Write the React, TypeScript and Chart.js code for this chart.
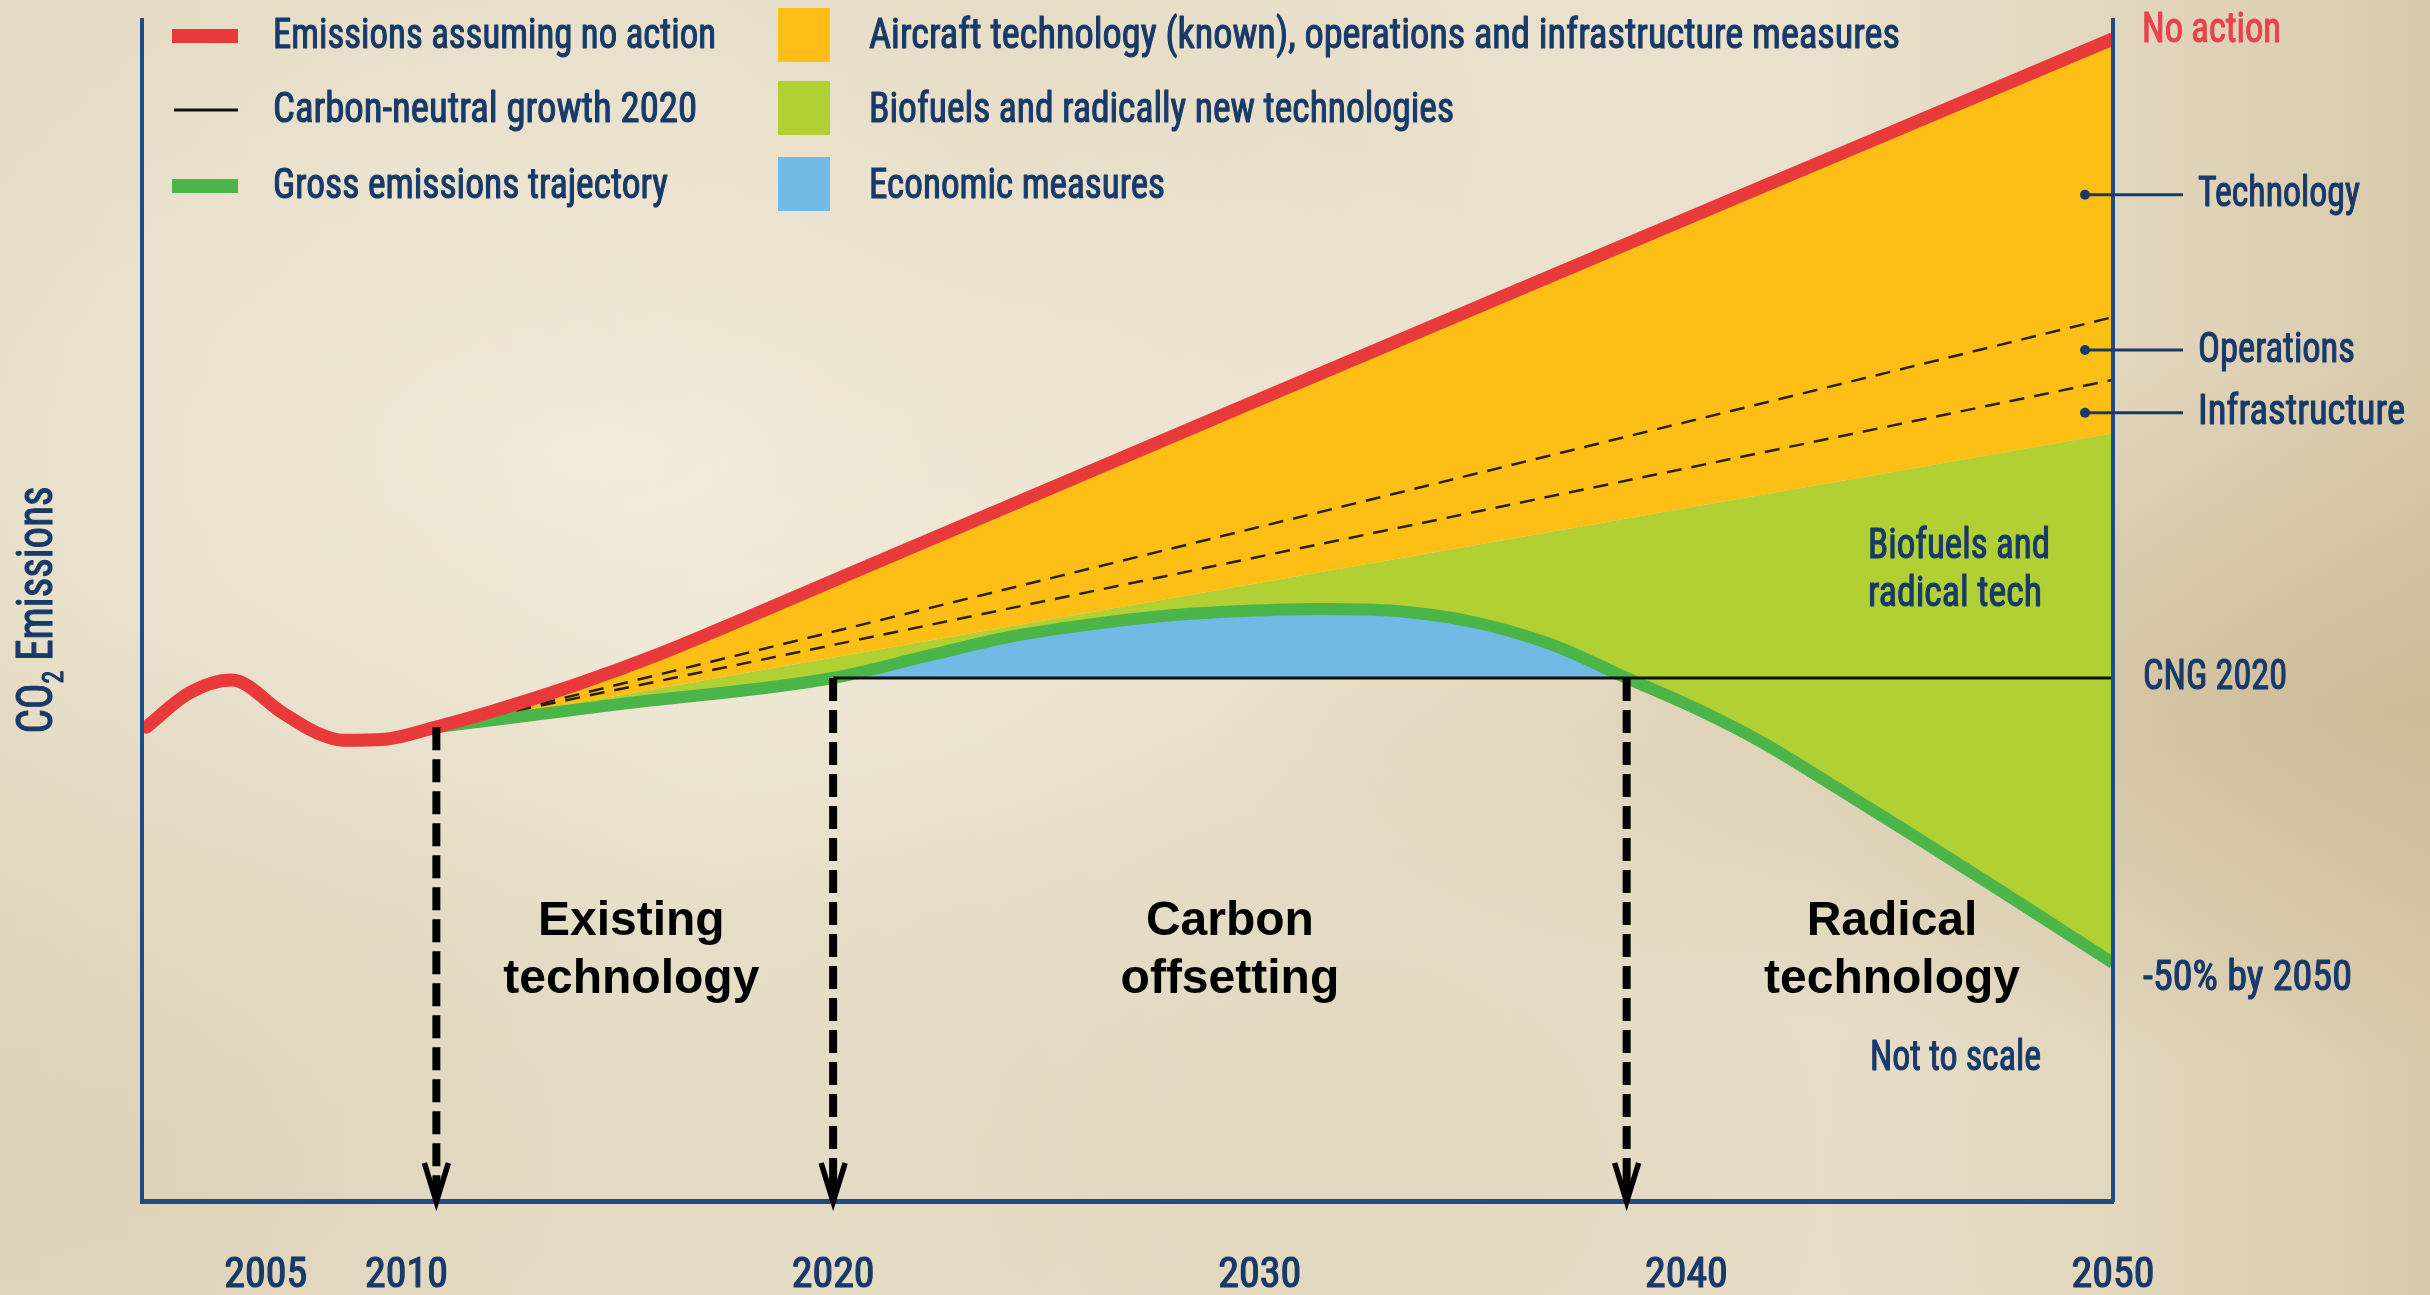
import React, { useEffect, useRef } from 'react';
import { Chart, registerables } from 'chart.js';

Chart.register(...registerables);

// ---------- DATA (emission index, carbon-neutral-growth level = 100; chart "not to scale") ----------
const historyYears = [2003.9, 2004.9, 2005.9, 2007.1, 2007.9, 2008.5, 2009.5, 2010.7];
const historyEmissions = [90.6, 97.1, 99.6, 93.3, 89.5, 88.1, 88.3, 90.6];

const noActionYears = [2010.7, 2012, 2014, 2016, 2018, 2020, 2030, 2040, 2050];
const noActionEmissions = [90.6, 93.6, 98.8, 104.8, 111.6, 118.6, 153.3, 187.8, 222.2];

const knownTechYears = [2010.7, 2015, 2020, 2030, 2040, 2050];
const knownTechEmissions = [90.6, 96.7, 103.9, 118.2, 132.5, 146.8];

const grossYears = [2010.7, 2015, 2020, 2022.3, 2024.1, 2025.9, 2027.8, 2029.6, 2031.4, 2033.2, 2035, 2036.8, 2038.6, 2040.34, 2041.75, 2043.27, 2045.26, 2047.37, 2050];
const grossEmissions = [90.6, 95.0, 100, 104.4, 107.8, 110.1, 111.9, 112.8, 113.2, 112.8, 110.7, 106.5, 100, 93.7, 87.8, 80.3, 70.2, 59.3, 45.5];

const operationsYears = [2012, 2050];
const operationsEmissions = [92.8, 169.0];
const infrastructureYears = [2012, 2050];
const infrastructureEmissions = [92.8, 157.0];

const cngYears = [2020, 2050];
const cngEmissions = [100, 100];

const xTickPositions = [2006.7, 2010, 2020, 2030, 2040, 2050];
const xTickLabels = ['2005', '2010', '2020', '2030', '2040', '2050'];

const phaseYears = [2010.7, 2020, 2038.6];
const phaseStartEmissions = [90.6, 100, 100];
const phaseLabelYears = [2015.27, 2029.3, 2044.82];
const phaseLabels = [['Existing', 'technology'], ['Carbon', 'offsetting'], ['Radical', 'technology']];

const measureLabels = ['Technology', 'Operations', 'Infrastructure'];
const measureLabelValues = [192.4, 162.7, 150.7];

// ---------- STYLE ----------
const RED = '#e8393b';
const ORANGE = '#fdbf16';
const LIGHT = '#b0d033';
const GREEN = '#4bb549';
const BLUE = '#72bae6';
const NAVY = '#183a69';
const AXIS = '#1e4d86';
const DASH = '#2b2010';
const NARROW = "'Liberation Sans Narrow', 'Roboto Condensed', 'DejaVu Sans Condensed', 'Arial Narrow', sans-serif";
const BOLD = "bold 48px 'Liberation Sans', Arial, sans-serif";

const pts = (xs: number[], ys: number[]) => xs.map((x, i) => ({ x, y: ys[i] }));

function fitText(ctx: CanvasRenderingContext2D, text: string, x: number, y: number, w: number, align: CanvasTextAlign = 'left') {
  const m = ctx.measureText(text).width || 1;
  ctx.save();
  ctx.translate(x, y);
  ctx.scale(w / m, 1);
  ctx.textAlign = align;
  ctx.strokeStyle = ctx.fillStyle as string;
  ctx.lineWidth = 1.1;
  ctx.lineJoin = 'round';
  ctx.strokeText(text, 0, 0);
  ctx.fillText(text, 0, 0);
  ctx.restore();
}

const annotations = {
  id: 'annotations',
  afterDraw(chart: any) {
    const { ctx, chartArea, scales } = chart;
    const xs = scales.x;
    const ys = scales.y;
    const L = chartArea.left;
    const R = chartArea.right;
    const B = chartArea.bottom;
    ctx.save();

    // phase arrows
    phaseYears.forEach((yr, i) => {
      const x = xs.getPixelForValue(yr);
      const top = ys.getPixelForValue(phaseStartEmissions[i]);
      ctx.strokeStyle = '#000';
      ctx.lineWidth = 8;
      ctx.setLineDash([23, 9]);
      ctx.beginPath();
      ctx.moveTo(x, top);
      ctx.lineTo(x, B - 12);
      ctx.stroke();
      ctx.setLineDash([]);
      ctx.lineWidth = 5.5;
      ctx.lineJoin = 'miter';
      ctx.beginPath();
      ctx.moveTo(x - 12, B - 38);
      ctx.lineTo(x, B + 1);
      ctx.lineTo(x + 12, B - 38);
      ctx.stroke();
      ctx.beginPath();
      ctx.moveTo(x - 4, B - 20);
      ctx.lineTo(x, B + 1);
      ctx.lineTo(x + 4, B - 20);
      ctx.closePath();
      ctx.fillStyle = '#000';
      ctx.fill();
    });

    // phase labels
    ctx.fillStyle = '#000';
    ctx.font = BOLD;
    ctx.textAlign = 'center';
    ctx.textBaseline = 'middle';
    phaseLabels.forEach((lines, i) => {
      const x = xs.getPixelForValue(phaseLabelYears[i]);
      ctx.fillText(lines[0], x, 922);
      ctx.fillText(lines[1], x, 980);
    });

    // legend
    ctx.fillStyle = RED;
    ctx.fillRect(172, 29, 66, 14);
    ctx.strokeStyle = '#111';
    ctx.lineWidth = 3;
    ctx.beginPath();
    ctx.moveTo(174, 110);
    ctx.lineTo(238, 110);
    ctx.stroke();
    ctx.fillStyle = GREEN;
    ctx.fillRect(172, 179, 66, 14);
    ctx.fillStyle = ORANGE;
    ctx.fillRect(778, 8, 52, 54);
    ctx.fillStyle = LIGHT;
    ctx.fillRect(778, 81, 52, 54);
    ctx.fillStyle = BLUE;
    ctx.fillRect(778, 157, 52, 54);

    ctx.font = `42px ${NARROW}`;
    ctx.textBaseline = 'middle';
    ctx.fillStyle = NAVY;
    fitText(ctx, 'Emissions assuming no action', 273, 37, 443);
    fitText(ctx, 'Carbon-neutral growth 2020', 273, 111, 424);
    fitText(ctx, 'Gross emissions trajectory', 273, 187, 395);
    fitText(ctx, 'Aircraft technology (known), operations and infrastructure measures', 869, 37, 1031);
    fitText(ctx, 'Biofuels and radically new technologies', 869, 111, 585);
    fitText(ctx, 'Economic measures', 869, 187, 296);

    // inner labels
    fitText(ctx, 'Biofuels and', 1868, 547, 182);
    fitText(ctx, 'radical tech', 1868, 595, 174);
    fitText(ctx, 'Not to scale', 1870, 1059, 171);

    // right side labels
    ctx.fillStyle = '#e8434c';
    fitText(ctx, 'No action', R + 29, 31, 139);
    ctx.fillStyle = NAVY;
    fitText(ctx, 'CNG 2020', R + 30, ys.getPixelForValue(cngEmissions[1]) + 1, 144);
    fitText(ctx, '-50% by 2050', R + 30, 979, 209);
    const mw = [162, 157, 207];
    measureLabels.forEach((t, i) => {
      const y = ys.getPixelForValue(measureLabelValues[i]);
      ctx.strokeStyle = NAVY;
      ctx.lineWidth = 3;
      ctx.beginPath();
      ctx.moveTo(R - 28, y);
      ctx.lineTo(R + 70, y);
      ctx.stroke();
      ctx.beginPath();
      ctx.arc(R - 28, y, 5, 0, Math.PI * 2);
      ctx.fillStyle = NAVY;
      ctx.fill();
      fitText(ctx, t, R + 85, y + 1, mw[i]);
    });

    // y-axis title
    ctx.save();
    ctx.translate(L - 103, 610);
    ctx.rotate(-Math.PI / 2);
    ctx.fillStyle = NAVY;
    ctx.strokeStyle = NAVY;
    ctx.lineWidth = 1.1;
    ctx.textAlign = 'left';
    ctx.textBaseline = 'middle';
    ctx.font = `50px ${NARROW}`;
    const wCO = ctx.measureText('CO').width;
    const wEm = ctx.measureText(' Emissions').width;
    ctx.font = `30px ${NARROW}`;
    const w2 = ctx.measureText('2').width;
    const total = wCO + w2 + wEm;
    const s = 247 / total;
    ctx.scale(s, 1);
    const x0 = -total / 2;
    ctx.font = `50px ${NARROW}`;
    ctx.strokeText('CO', x0, 0);
    ctx.fillText('CO', x0, 0);
    ctx.font = `30px ${NARROW}`;
    ctx.strokeText('2', x0 + wCO, 16);
    ctx.fillText('2', x0 + wCO, 16);
    ctx.font = `50px ${NARROW}`;
    ctx.strokeText(' Emissions', x0 + wCO + w2, 0);
    ctx.fillText(' Emissions', x0 + wCO + w2, 0);
    ctx.restore();

    ctx.restore();
  },
};

export default function App() {
  const ref = useRef<HTMLCanvasElement>(null);

  useEffect(() => {
    const canvas = ref.current;
    if (!canvas) return;
    const chart = new Chart(canvas, {
      type: 'line',
      data: {
        datasets: [
          {
            label: 'Emissions (history)',
            data: pts(historyYears, historyEmissions),
            borderColor: RED,
            borderWidth: 13,
            borderCapStyle: 'round',
            cubicInterpolationMode: 'monotone',
            pointRadius: 0,
            fill: false,
          },
          {
            label: 'Emissions assuming no action',
            data: pts(noActionYears, noActionEmissions),
            borderColor: RED,
            borderWidth: 13,
            cubicInterpolationMode: 'monotone',
            pointRadius: 0,
            fill: 6,
            backgroundColor: ORANGE,
          },
          {
            label: 'Operations',
            data: pts(operationsYears, operationsEmissions),
            borderColor: DASH,
            borderWidth: 2.5,
            borderDash: [15, 10],
            pointRadius: 0,
            fill: false,
          },
          {
            label: 'Infrastructure',
            data: pts(infrastructureYears, infrastructureEmissions),
            borderColor: DASH,
            borderWidth: 2.5,
            borderDash: [15, 10],
            pointRadius: 0,
            fill: false,
          },
          {
            label: 'Carbon-neutral growth 2020',
            data: pts(cngYears, cngEmissions),
            borderColor: '#111',
            borderWidth: 3,
            pointRadius: 0,
            fill: false,
          },
          {
            label: 'Gross emissions trajectory',
            data: pts(grossYears, grossEmissions),
            borderColor: GREEN,
            borderWidth: 12,
            cubicInterpolationMode: 'monotone',
            pointRadius: 0,
            fill: { target: { value: 100 }, above: BLUE, below: 'rgba(0,0,0,0)' },
          },
          {
            label: 'Aircraft technology (known), operations and infrastructure measures',
            data: pts(knownTechYears, knownTechEmissions),
            borderColor: 'rgba(0,0,0,0)',
            borderWidth: 0,
            cubicInterpolationMode: 'monotone',
            pointRadius: 0,
            fill: 5,
            backgroundColor: LIGHT,
          },
        ],
      },
      options: {
        animation: false,
        responsive: true,
        maintainAspectRatio: false,
        devicePixelRatio: 1,
        layout: { padding: { left: 142, right: 317, top: 20, bottom: 0 } },
        plugins: {
          legend: { display: false },
          tooltip: { enabled: false },
          filler: { drawTime: 'beforeDatasetsDraw' },
        },
        scales: {
          x: {
            type: 'linear',
            min: 2003.8,
            max: 2050,
            grid: { display: false, drawTicks: false, tickLength: 0 },
            border: { display: true, color: AXIS, width: 5, z: 1 },
            ticks: {
              autoSkip: false,
              maxRotation: 0,
              padding: 50,
              color: NAVY,
              textStrokeColor: NAVY,
              textStrokeWidth: 1.2,
              font: { family: NARROW, size: 42 },
              callback: (_v: any, i: number) => xTickLabels[i],
            },
            afterBuildTicks: (scale: any) => {
              scale.ticks = xTickPositions.map((v) => ({ value: v }));
            },
            afterFit: (scale: any) => {
              scale.height = 94;
            },
          },
          y: {
            type: 'linear',
            position: 'left',
            min: 0,
            max: 225.8,
            grid: { display: false, drawTicks: false },
            border: { display: true, color: AXIS, width: 4, z: 1 },
            ticks: { display: false },
            afterFit: (scale: any) => {
              scale.width = 0;
            },
          },
          y2: {
            type: 'linear',
            position: 'right',
            min: 0,
            max: 1,
            grid: { display: false, drawTicks: false },
            border: { display: true, color: AXIS, width: 4, z: 1 },
            ticks: { display: false },
            afterFit: (scale: any) => {
              scale.width = 0;
            },
          },
        },
      },
      plugins: [annotations],
    } as any);
    return () => chart.destroy();
  }, []);

  return (
    <div
      style={{
        position: 'fixed',
        left: 0,
        top: 0,
        width: '100vw',
        height: '100vh',
        background:
          'radial-gradient(ellipse at 25% 35%, rgba(250,245,230,0.45), rgba(0,0,0,0) 40%),' +
          'radial-gradient(ellipse at 98% 55%, rgba(190,168,125,0.45), rgba(0,0,0,0) 35%),' +
          'radial-gradient(ellipse at 55% 90%, rgba(205,190,155,0.3), rgba(0,0,0,0) 40%),' +
          'radial-gradient(ellipse at 5% 90%, rgba(205,190,155,0.3), rgba(0,0,0,0) 35%),' +
          'radial-gradient(ellipse at 40% 10%, rgba(215,200,170,0.25), rgba(0,0,0,0) 30%),' +
          'linear-gradient(90deg, #e5dbc4 0%, #ebe3cf 30%, #eae1cc 75%, #d9caac 100%)',
      }}
    >
      <canvas ref={ref} />
    </div>
  );
}
